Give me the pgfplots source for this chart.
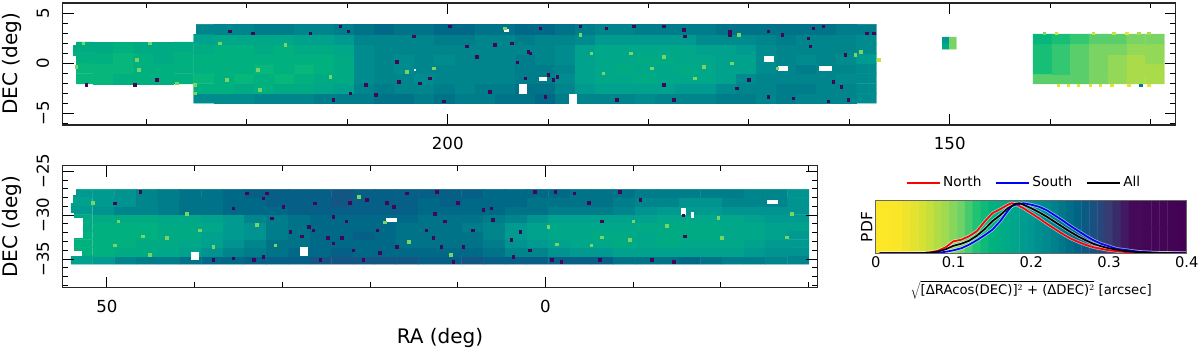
\documentclass[border=0pt]{standalone}
\usepackage{fontspec}
\setmainfont{DejaVu Sans}
\usepackage{pgfplots}
\pgfplotsset{compat=1.18}
\newcommand{\fs}[1]{\fontsize{#1}{#1}\selectfont}
\newcommand{\hole}[4]{\addplot[fill=white,draw=none,forget plot] coordinates {(#1,#3)(#2,#3)(#2,#4)(#1,#4)} --cycle;}
\pgfplotsset{
 colormap={sky}{rgb255(0cm)=(253,231,37) rgb255(3cm)=(250,230,40) rgb255(6cm)=(215,225,50) rgb255(9cm)=(160,218,80) rgb255(11cm)=(110,210,105) rgb255(13cm)=(30,195,115) rgb255(15cm)=(0,178,125) rgb255(18cm)=(0,165,140) rgb255(20cm)=(0,150,145) rgb255(23cm)=(0,130,140) rgb255(26cm)=(0,100,135) rgb255(28cm)=(25,80,130) rgb255(30cm)=(55,60,115) rgb255(33cm)=(68,10,90) rgb255(40cm)=(68,1,84)},
 panel/.style={scale only axis, x dir=reverse, axis on top, tick align=inside, major tick length=11pt, minor tick length=5.5pt,
  every tick/.append style={black,line width=1pt}, every minor tick/.append style={black,line width=1pt}, axis line style={line width=1.3pt,black!85},
  point meta min=-1.5, point meta max=38.5, enlargelimits=false,
  tick label style={font=\fs{16.6}}, /pgf/number format/assume math mode=true,
  xticklabel style={yshift=-9pt}, yticklabel style={rotate=90,anchor=south,yshift=10pt},
  label style={font=\fs{20}},
  ylabel style={at={(axis description cs:0,0.5)},anchor=center,yshift=50.7pt},
 },
 cell/.style={matrix plot*, point meta=explicit, forget plot},
 speck/.style={only marks, scatter, mark=square*, mark size=1.3pt, point meta=explicit, forget plot, scatter/use mapped color={draw=mapped color,fill=mapped color}},
}
\begin{document}
\begin{tikzpicture}
\useasboundingbox (0pt,0pt) rectangle (1200pt,352pt);
% ---------- top strip
\begin{axis}[panel, at={(62.7pt,227pt)}, anchor=south west, width=1113pt, height=122pt,
 xmin=127.5, xmax=238.35, ymin=-6.17, ymax=6,
 xtick={150,200}, xticklabels={150,200}, minor xtick={130,140,...,230},
 ytick={-5,0,5}, yticklabels={−5,0,5}, minor ytick={-6,-4,-3,-2,-1,1,2,3,4},
 ylabel={DEC (deg)}]
\addplot[cell, mesh/cols=34] table[row sep=\\, header=false, meta index=0,
 x expr={224.3-2*mod(\coordindex,34)}, y expr={-3.508+0.984*round((\coordindex-16.5)/34)}] {
20\\20\\20\\21\\21\\21\\22\\22\\22\\23\\23\\22\\23\\22\\22\\23\\23\\24\\22\\21\\21\\21\\20\\21\\21\\21\\22\\22\\21\\22\\21\\21\\21\\20\\
14\\14\\15\\14\\15\\15\\16\\17\\21\\22\\21\\21\\22\\21\\22\\22\\23\\23\\21\\18\\17\\17\\17\\17\\18\\18\\20\\21\\21\\22\\22\\21\\21\\20\\
13\\14\\13\\14\\13\\14\\15\\15\\20\\21\\21\\20\\21\\21\\21\\21\\22\\22\\20\\17\\16\\16\\15\\16\\16\\16\\17\\20\\21\\21\\21\\21\\20\\20\\
14\\14\\14\\13\\14\\13\\14\\15\\20\\21\\20\\21\\21\\21\\21\\21\\22\\22\\21\\17\\16\\15\\16\\16\\15\\16\\17\\17\\20\\21\\22\\21\\21\\20\\
14\\14\\14\\14\\14\\14\\14\\15\\20\\21\\20\\21\\20\\21\\21\\21\\22\\21\\20\\17\\16\\16\\15\\15\\16\\16\\17\\17\\20\\21\\20\\21\\20\\18\\
15\\14\\14\\15\\14\\15\\15\\16\\20\\21\\21\\21\\21\\21\\21\\21\\21\\21\\20\\17\\16\\16\\16\\16\\16\\17\\17\\18\\20\\21\\21\\21\\21\\20\\
17\\16\\16\\16\\16\\17\\17\\18\\21\\21\\21\\21\\22\\22\\21\\21\\22\\21\\21\\20\\18\\18\\18\\18\\18\\20\\20\\20\\21\\22\\21\\21\\21\\20\\
21\\21\\21\\22\\22\\21\\21\\22\\23\\24\\23\\23\\24\\24\\23\\23\\24\\24\\23\\22\\21\\21\\22\\22\\22\\22\\23\\23\\23\\23\\23\\23\\22\\22\\
};
\addplot[cell, mesh/cols=6] table[row sep=\\, header=false, meta index=0,
 x expr={236.3-2*mod(\coordindex,6)}, y expr={-1.55+1.04*round((\coordindex-2.5)/6)}] {
13\\13\\14\\14\\14\\14\\
13\\13\\13\\14\\14\\14\\
14\\14\\13\\14\\15\\14\\
15\\15\\14\\15\\15\\15\\
};
\addplot[cell, mesh/cols=7] table[row sep=\\, header=false, meta index=0,
 x expr={140.77-1.87*mod(\coordindex,7)}, y expr={-1.57+0.994*round((\coordindex-3)/7)}] {
10\\10\\10\\9\\8\\7\\7\\
12\\11\\10\\9\\8\\7\\7\\
12\\11\\10\\9\\8\\7\\8\\
12\\11\\10\\9\\9\\8\\8\\
13\\12\\11\\10\\10\\9\\9\\
};
\addplot[cell, mesh/cols=2] table[row sep=\\, header=false, meta index=0,
 x expr={150.4-0.7*mod(\coordindex,2)}, y expr={1.7+0.6*round((\coordindex-0.5)/2)}] {
15\\9\\
18\\9\\
};
\addplot[speck] table[row sep=\\, header=false, meta index=2] {
236 -2.17 34\\231.2 -2.17 34\\229 -1.67 34\\210.7 3.7 34\\209.9 3.17 34\\205.1 .17 34\\204.9 -1.83 34\\207.2 -3.17 34\\208.2 -2.17 34\\209.7 -3 34\\213.7 3 34\\211.4 -3.67 34\\221.7 3.17 34\\219.4 3 34\\
178.5 3.7 34\\176.5 3.33 34\\176.4 2.67 34\\171.9 2.83 34\\192 1.17 34\\191.8 1 34\\193.1 .1 34\\195.3 1.83 34\\193.6 2 34\\192.3 -1.5 34\\190 -1.17 34\\189.5 -1.67 34\\189.1 -1.33 34\\190.3 -3.33 34\\200.4 -3.8 34\\202.8 -2 34\\195.8 -2.83 34\\170 -1.67 34\\168.1 3.17 34\\166.7 2.83 34\\178.5 -2.17 34\\199.8 3.67 34\\184.2 3.5 34\\186.8 3.7 34\\190.8 3.5 34\\171.2 -2.5 34\\198.1 1.67 34\\197.1 .67 34\\177.5 -3.67 34\\165.6 -3.5 34\\168.1 -3.33 34\\183.2 -3.67 34\\201.8 -1.5 34\\203.4 2.67 34\\171.9 3.17 34\\181.5 3.67 34\\
162.6 3.7 34\\164.1 2.5 34\\158.3 3 34\\157.6 3 34\\160.4 .83 34\\160.8 -2.33 34\\162.1 -3.8 34\\160.1 -3.67 34\\161.6 -1.83 34\\163.9 1.67 34\\163.6 3.5 34\\
229.7 2 9\\222 -1.67 9\\218.9 -.67 9\\211.7 -1.33 9\\222.7 2 9\\225.2 -3 9\\231 .33 9\\237 -.33 9\\225.2 -2.17 9\\216.2 1.83 9\\218.7 -2.67 9\\230.8 -.67 9\\236.3 2 9\\227 -2 9\\
194.3 3.5 9\\171 2.83 9\\171.7 0 9\\175.4 -1.5 9\\184.5 -1 9\\185.7 1 9\\181.8 1 9\\167.2 -.5 9\\178.5 .67 9\\201.4 -.5 9\\204.1 -.83 9\\186.8 2.83 9\\174.5 -.33 9\\179.7 -.5 9\\158.9 1.17 9\\159.4 .83 9\\157.1 .33 5\\
139.2 -2.2 3\\138.2 -2.2 3\\137.2 -2.2 3\\136 -2.2 3\\135 -2.2 3\\133.9 -2.2 3\\132.2 -2.2 3\\131 -2.2 22\\130.2 -2.2 3\\140.6 3 9\\139.4 3 5\\135.7 3 5\\133.7 3 5\\132.4 3 3\\131.2 3 7\\130.2 3 7\\
};
\hole{238}{237.05}{1.83}{2.2}\hole{238}{237.05}{-2.2}{0.67}
\hole{225.4}{225.07}{2.9}{3.95}
\hole{192.86}{192.13}{-3.07}{-2.07}\hole{190.87}{190.1}{-1.8}{-1.37}\hole{187.9}{187.15}{-4.1}{-3.1}
\hole{194.4}{193.9}{3.13}{3.4}\hole{203.4}{203.2}{-0.8}{-0.57}\hole{168.46}{167.5}{0.13}{0.67}
\hole{167.13}{166.14}{-0.83}{-0.33}\hole{162.98}{161.72}{-0.83}{-0.33}
\end{axis}
% ---------- bottom strip
\begin{axis}[panel, at={(62.7pt,64.3pt)}, anchor=south west, width=754.6pt, height=122pt,
 xmin=-31, xmax=55.05, ymin=-38.27, ymax=-24.35,
 xtick={0,50}, xticklabels={0,50}, minor xtick={-30,-20,-10,10,20,30,40},
 ytick={-35,-30,-25}, yticklabels={−35,−30,−25}, minor ytick={-38,-37,-36,-34,-33,-32,-31,-29,-28,-27,-26},
 ylabel={DEC (deg)}, xlabel={RA (deg)},
 xlabel style={at={(axis description cs:0.5,0)},anchor=center,yshift=-50.3pt}]
\addplot[cell, mesh/cols=34] table[row sep=\\, header=false, meta index=0,
 x expr={52.86-2.475*mod(\coordindex,34)}, y expr={-35.12+0.95*round((\coordindex-16.5)/34)}] {
17\\18\\21\\22\\22\\23\\24\\24\\25\\25\\25\\26\\26\\26\\26\\26\\25\\25\\26\\25\\25\\25\\25\\25\\25\\23\\23\\23\\24\\23\\22\\22\\21\\21\\
14\\14\\15\\15\\16\\17\\19\\21\\22\\23\\24\\24\\25\\24\\24\\24\\24\\24\\24\\23\\21\\21\\19\\18\\18\\17\\17\\17\\17\\17\\17\\18\\19\\19\\
14\\14\\14\\15\\15\\16\\17\\19\\21\\23\\23\\24\\24\\24\\24\\23\\23\\23\\23\\22\\19\\18\\17\\16\\16\\15\\16\\15\\16\\16\\16\\17\\18\\18\\
14\\14\\14\\14\\15\\15\\17\\18\\19\\22\\23\\24\\24\\25\\24\\23\\23\\23\\23\\21\\18\\17\\16\\16\\15\\15\\16\\15\\15\\15\\16\\16\\17\\18\\
15\\14\\14\\14\\15\\15\\16\\18\\19\\22\\23\\24\\24\\24\\24\\23\\23\\23\\22\\21\\18\\17\\16\\16\\16\\16\\15\\15\\15\\15\\16\\16\\17\\17\\
15\\15\\15\\15\\16\\16\\17\\18\\21\\22\\23\\24\\24\\24\\24\\24\\23\\23\\23\\22\\21\\19\\17\\17\\17\\17\\17\\16\\16\\16\\16\\17\\18\\18\\
18\\19\\21\\21\\22\\23\\23\\24\\24\\24\\25\\25\\25\\25\\25\\25\\24\\24\\24\\24\\23\\23\\22\\22\\22\\21\\19\\18\\18\\18\\19\\19\\19\\19\\
17\\18\\19\\21\\22\\23\\23\\24\\24\\25\\25\\25\\26\\25\\25\\25\\24\\25\\24\\24\\24\\23\\23\\23\\23\\22\\21\\21\\19\\19\\21\\21\\21\\19\\
18\\18\\19\\21\\22\\23\\23\\24\\25\\25\\25\\25\\26\\25\\25\\25\\25\\25\\25\\24\\24\\24\\24\\23\\23\\23\\22\\22\\22\\22\\22\\21\\21\\19\\
};
\addplot[speck] table[row sep=\\, header=false, meta index=2] {
46.2 -27.3 34\\49.1 -28.63 34\\32.2 -28.06 34\\31.8 -27.5 34\\35.6 -29.2 34\\34.1 -27.5 34\\29.9 -29 34\\31.2 -30.34 34\\26.3 -28.63 34\\27 -31.3 34\\24.8 -32.6 34\\24.2 -33.2 34\\23.2 -32.6 34\\22.3 -28.6 34\\20.4 -28.25 34\\19.2 -31.7 34\\16.96 -33.6 34\\18.1 -28.6 34\\15.8 -27.5 34\\18.9 -34.3 34\\20.8 -35.1 34\\25.7 -35.1 34\\32.2 -34.7 34\\33.3 -35.1 34\\35.6 -34.9 34\\37.9 -35.1 34\\22.7 -30.7 34\\27.8 -32.4 34\\29.1 -31.9 34\\26.5 -31.7 34\\21.9 -34 34\\24.2 -30.15 34\\17.3 -29 34\\
12.4 -27.3 34\\10 -28.6 34\\12.6 -29.8 34\\7.1 -29.4 34\\6.2 -29.2 34\\12.8 -32.6 34\\9.4 -33.6 34\\10.5 -35.3 34\\3.7 -34.7 34\\1.8 -34 34\\1.2 -27.3 34\\-1.1 -27.3 34\\-1.8 -35.3 34\\-8.5 -27.3 34\\-10.8 -28.25 34\\-12.1 -35.1 34\\-14.6 -35.3 34\\-15.9 -32.4 34\\-15.7 -30 34\\-4.9 -28.6 34\\-3.3 -27.5 34\\-6.4 -30.7 34\\2.9 -31.9 34\\8.3 -31.7 34\\11.5 -30.7 34\\6 -30.5 34\\13.6 -31.7 34\\3.9 -32.8 34\\11.9 -33.6 34\\-.7 -35.1 34\\-6.2 -35.1 34\\
51.6 -28.6 9\\48.7 -30.7 9\\45.9 -32.4 9\\49.1 -33.4 9\\45.1 -34.5 9\\39.4 -31.7 9\\37.9 -33.6 9\\30.8 -33.4 9\\32.9 -31.1 9\\21.3 -27.9 9\\18.3 -30.8 9\\15.6 -33 9\\40.9 -29.8 9\\43.2 -32.6 9\\
-.3 -31.3 9\\-1.3 -33.3 9\\10.8 -34.5 9\\-5.2 -33.4 9\\-6.4 -32.5 9\\-9.6 -32.8 9\\-13.8 -31.2 9\\-20.1 -32.6 9\\-28.1 -29.8 9\\-27.5 -32.5 9\\-19.7 -30.3 9\\-10 -30.7 9\\
};
\hole{55}{53.54}{-27.68}{-27}\hole{55}{53.84}{-28.63}{-27.68}
\hole{55}{53.76}{-30.34}{-29.77}\hole{55}{52.78}{-32.62}{-30.34}\hole{55}{53.76}{-34.14}{-32.62}\hole{55}{52.89}{-34.71}{-34.14}
\hole{18.17}{16.88}{-30.72}{-30.27}\hole{27.98}{27.03}{-34.64}{-33.65}\hole{40.38}{39.5}{-35.1}{-34.18}
\hole{-15.44}{-16.08}{-29.96}{-29.2}\hole{-16.65}{-16.92}{-30.27}{-29.66}\hole{-25.32}{-26.54}{-28.75}{-28.25}
\end{axis}
% ---------- PDF panel
\begin{axis}[scale only axis, at={(875.7pt,98.7pt)}, anchor=south west, width=311pt, height=52.6pt,
 xmin=0, xmax=0.4, ymin=0, ymax=1.05, axis on top, enlargelimits=false,
 point meta min=0, point meta max=40,
 xtick={0,0.1,0.2,0.3,0.4}, xticklabels={0,0.1,0.2,0.3,0.4}, ytick=\empty,
 xtick style={draw=none}, axis line style={line width=0.9pt,black!60},
 tick label style={font=\fs{14.7}}, /pgf/number format/assume math mode=true,
 xlabel={$\sqrt{\mbox{[ΔRAcos(DEC)]$^2$ + (ΔDEC)$^2$}}$ [arcsec]}, ylabel={PDF},
 xlabel style={font=\fs{13.2},at={(axis description cs:0.5,0)},anchor=center,yshift=-36.7pt},
 ylabel style={font=\fs{15.5},at={(axis description cs:0,0.5)},anchor=center,yshift=9pt},
 legend style={at={(0.5,1)},anchor=south,xshift=-7pt,yshift=8pt,draw=none,fill=none,legend columns=3,font=\fs{13.7},
  /tikz/every even column/.append style={column sep=12pt}},
 legend image code/.code={\draw[#1,line width=2pt] (0pt,0pt) -- (33pt,0pt);},
 legend cell align=left]
\addplot[matrix plot*, mesh/cols=41, point meta={x*100}, forget plot] table[row sep=\\, x index=0, y index=1, header=false] {
0 0\\.01 0\\.02 0\\.03 0\\.04 0\\.05 0\\.06 0\\.07 0\\.08 0\\.09 0\\.1 0\\.11 0\\.12 0\\.13 0\\.14 0\\.15 0\\.16 0\\.17 0\\.18 0\\.19 0\\.2 0\\.21 0\\.22 0\\.23 0\\.24 0\\.25 0\\.26 0\\.27 0\\.28 0\\.29 0\\.3 0\\.31 0\\.32 0\\.33 0\\.34 0\\.35 0\\.36 0\\.37 0\\.38 0\\.39 0\\.4 0\\
0 1.05\\.01 1.05\\.02 1.05\\.03 1.05\\.04 1.05\\.05 1.05\\.06 1.05\\.07 1.05\\.08 1.05\\.09 1.05\\.1 1.05\\.11 1.05\\.12 1.05\\.13 1.05\\.14 1.05\\.15 1.05\\.16 1.05\\.17 1.05\\.18 1.05\\.19 1.05\\.2 1.05\\.21 1.05\\.22 1.05\\.23 1.05\\.24 1.05\\.25 1.05\\.26 1.05\\.27 1.05\\.28 1.05\\.29 1.05\\.3 1.05\\.31 1.05\\.32 1.05\\.33 1.05\\.34 1.05\\.35 1.05\\.36 1.05\\.37 1.05\\.38 1.05\\.39 1.05\\.4 1.05\\
};
\pgfplotstableread[row sep=\\]{x y\\0.005 0\\.06 .005\\.07 .02\\.08 .05\\.09 .12\\.10 .24\\.11 .27\\.12 .34\\.13 .44\\.14 .63\\.15 .8\\.16 .88\\.17 .97\\.175 1\\.18 .98\\.19 .9\\.2 .8\\.21 .7\\.22 .59\\.23 .49\\.24 .39\\.25 .3\\.26 .23\\.27 .17\\.28 .12\\.29 .09\\.3 .06\\.32 .027\\.34 .015\\.36 .008\\.38 .003\\.4 0\\}\north
\pgfplotstableread[row sep=\\]{x y\\0.005 0\\.07 .002\\.08 .01\\.09 .03\\.1 .06\\.11 .1\\.12 .17\\.13 .26\\.14 .36\\.15 .47\\.16 .64\\.17 .85\\.175 .94\\.18 .97\\.19 1\\.2 .97\\.21 .93\\.22 .86\\.23 .76\\.24 .66\\.25 .55\\.26 .45\\.27 .35\\.28 .26\\.29 .19\\.3 .14\\.31 .09\\.32 .07\\.33 .05\\.34 .03\\.36 .015\\.38 .006\\.4 .002\\}\south
\pgfplotstableread[row sep=\\]{x y\\0.005 0\\.06 .004\\.07 .015\\.08 .035\\.09 .08\\.1 .15\\.11 .19\\.12 .25\\.13 .35\\.14 .48\\.15 .64\\.16 .76\\.17 .9\\.18 .99\\.185 1\\.19 .97\\.2 .9\\.21 .82\\.22 .73\\.23 .63\\.24 .53\\.25 .43\\.26 .34\\.27 .26\\.28 .19\\.29 .14\\.3 .1\\.32 .045\\.34 .02\\.36 .01\\.38 .004\\.4 .001\\}\all
\addplot[white,opacity=.55,line width=3.2pt,forget plot] table {\north};
\addplot[white,opacity=.55,line width=3.2pt,forget plot] table {\south};
\addplot[white,opacity=.55,line width=3.2pt,forget plot] table {\all};
\addplot[red,line width=1.7pt] table {\north};
\addplot[blue,line width=1.7pt] table {\south};
\addplot[black,line width=1.7pt] table {\all};
\legend{North,South,All}
\end{axis}
\end{tikzpicture}
\end{document}
